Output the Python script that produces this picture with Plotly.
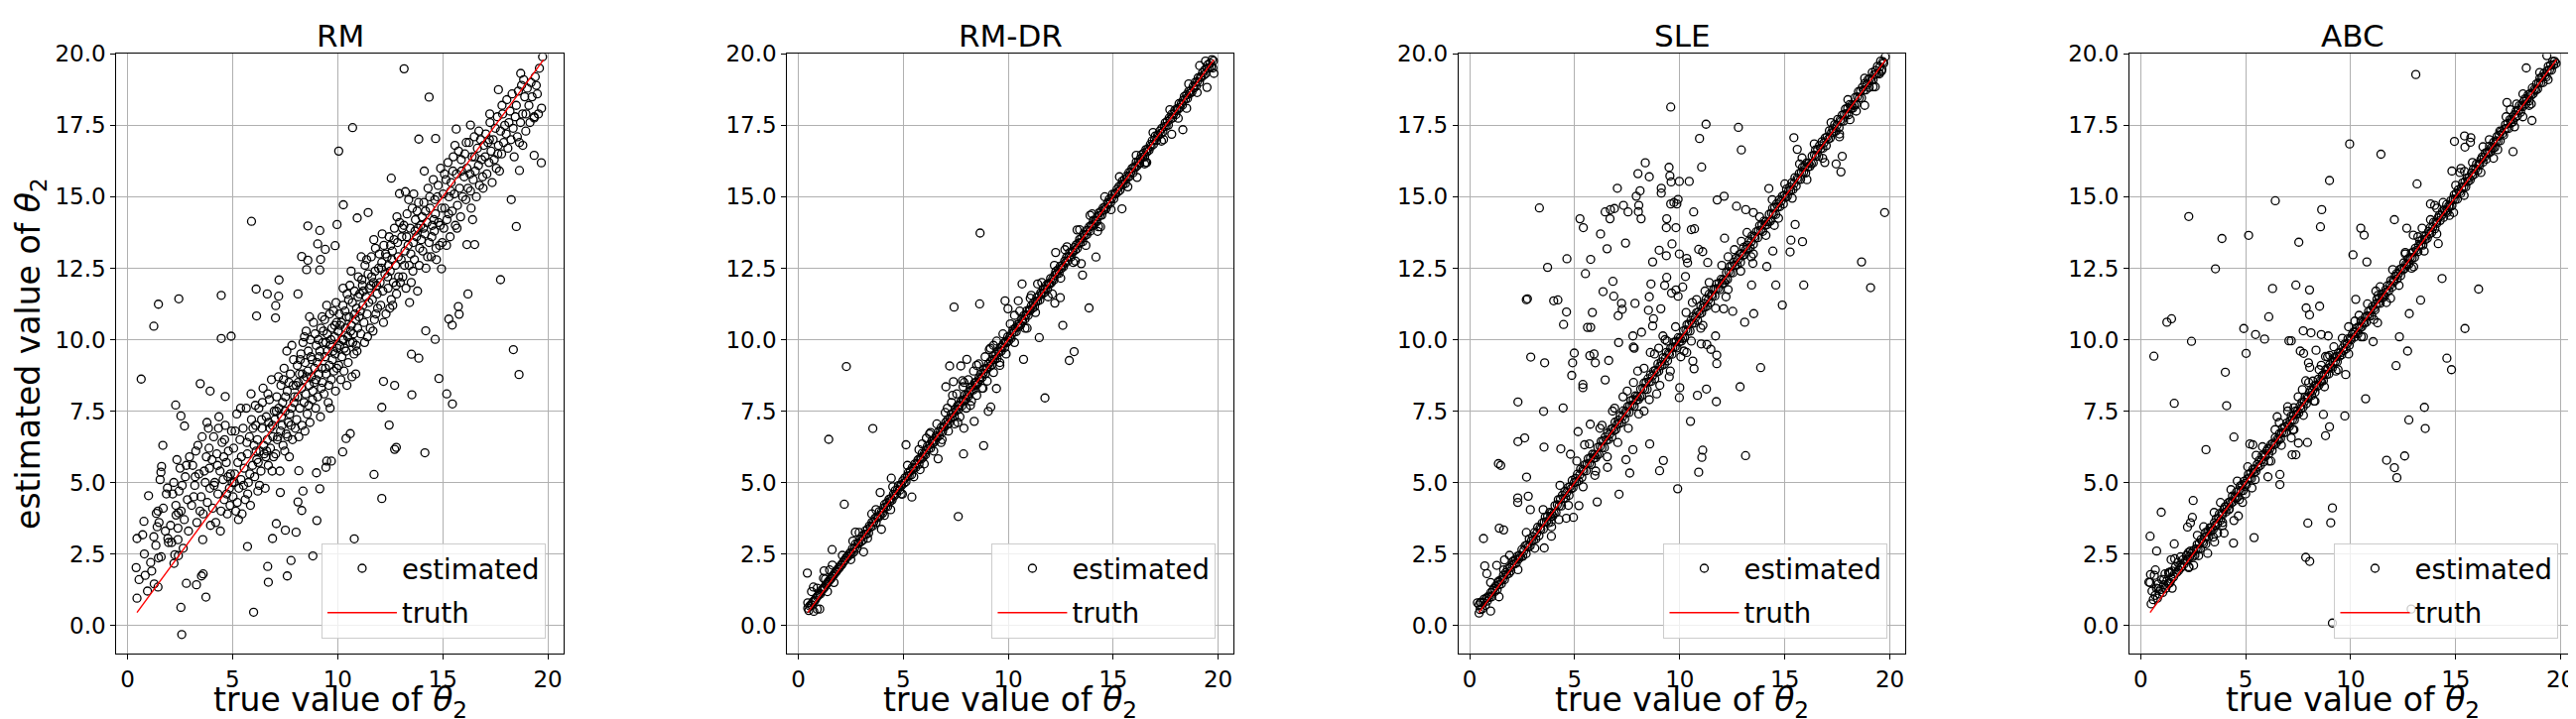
import plotly.graph_objects as go

# ---------------- data ----------------
titles = ["RM", "RM-DR", "SLE", "ABC"]
truth_line = [0.45, 19.8]
x_ticks = [0, 5, 10, 15, 20]
y_ticks = [0, 2.5, 5, 7.5, 10, 12.5, 15, 17.5, 20]
y_tick_labels = ["0.0", "2.5", "5.0", "7.5", "10.0", "12.5", "15.0", "17.5", "20.0"]

# RM: (true, estimated) pairs (dense cloud)
rm_core = [
    (0.55, 1.6), (0.8, 2.5), (0.95, 1.2),
    (1.1, 2.2), (1.25, 3.1), (1.35, 2.8), (1.5, 3.6), (1.6, 2.4), (1.7, 4.1), (1.8, 3.3), (1.95, 2.9), (1.15, 1.9), (1.85, 4.6), (1.55, 5.1), (1.45, 4.0),
    (2.05, 3.5), (2.15, 4.6), (2.2, 5.0), (2.3, 4.2), (2.4, 3.0), (2.5, 5.5), (2.6, 4.9), (2.7, 3.7), (2.75, 5.2), (2.85, 4.4), (2.95, 5.9), (2.1, 2.9), (2.35, 5.8), (2.65, 2.7), (2.9, 3.3), (2.55, 4.0), (2.45, 4.7), (2.8, 5.6),
    (3.05, 4.2), (3.1, 5.6), (3.2, 4.9), (3.25, 6.1), (3.3, 3.6), (3.4, 5.3), (3.5, 4.5), (3.55, 6.6), (3.6, 3.9), (3.7, 5.0), (3.75, 5.9), (3.8, 4.3), (3.85, 6.9), (3.9, 5.5), (3.95, 3.5), (3.15, 4.5), (3.35, 6.3), (3.45, 4.0), (3.65, 5.4), (3.78, 7.1), (3.92, 4.8), (3.58, 3.0), (3.22, 5.2), (3.88, 6.2),
    (4.02, 5.8), (4.05, 4.1), (4.1, 6.6), (4.15, 5.0), (4.2, 3.6), (4.25, 6.0), (4.3, 4.6), (4.35, 7.3), (4.4, 5.4), (4.45, 4.0), (4.5, 6.4), (4.55, 5.1), (4.6, 4.4), (4.65, 7.0), (4.7, 5.7), (4.75, 3.9), (4.8, 6.1), (4.85, 4.8), (4.9, 5.3), (4.95, 6.8), (4.12, 4.9), (4.28, 5.6), (4.42, 3.3), (4.58, 5.9), (4.72, 4.6), (4.88, 4.2), (4.98, 5.0), (4.33, 6.9), (4.62, 6.5), (4.78, 5.2),
    (5.02, 4.5), (5.05, 6.2), (5.1, 5.3), (5.15, 4.0), (5.2, 7.4), (5.25, 5.7), (5.3, 4.8), (5.35, 6.5), (5.4, 5.1), (5.45, 3.9), (5.5, 6.9), (5.55, 5.5), (5.6, 4.4), (5.65, 7.6), (5.7, 6.0), (5.75, 5.0), (5.8, 6.6), (5.85, 4.2), (5.9, 7.2), (5.95, 5.6), (5.08, 5.0), (5.22, 4.3), (5.38, 7.6), (5.52, 4.9), (5.68, 6.4), (5.82, 5.3), (5.97, 6.9), (5.12, 6.8), (5.42, 5.9), (5.72, 4.6), (5.88, 8.1), (5.28, 3.7),
    (6.02, 6.3), (6.05, 5.2), (6.1, 7.0), (6.15, 5.8), (6.2, 4.7), (6.25, 7.6), (6.3, 6.1), (6.35, 5.4), (6.4, 6.9), (6.45, 8.3), (6.5, 6.0), (6.55, 4.8), (6.6, 7.3), (6.65, 6.5), (6.7, 5.6), (6.75, 7.9), (6.8, 6.2), (6.85, 8.6), (6.9, 7.0), (6.95, 5.9), (6.08, 7.7), (6.18, 6.5), (6.28, 4.9), (6.38, 7.2), (6.48, 6.3), (6.58, 5.9), (6.68, 8.1), (6.78, 6.9), (6.88, 5.4), (6.98, 7.5), (6.12, 6.1), (6.42, 7.8), (6.62, 6.1), (6.92, 6.6), (6.22, 5.7), (6.72, 7.1),
    (7.02, 7.2), (7.05, 6.0), (7.1, 8.0), (7.15, 6.6), (7.2, 7.6), (7.25, 5.4), (7.3, 8.4), (7.35, 7.0), (7.4, 6.3), (7.45, 9.0), (7.5, 7.5), (7.55, 6.7), (7.6, 8.2), (7.65, 7.1), (7.7, 5.9), (7.75, 8.8), (7.8, 7.6), (7.85, 6.5), (7.9, 9.3), (7.95, 8.0), (7.08, 7.5), (7.18, 8.7), (7.28, 6.8), (7.38, 7.8), (7.48, 6.1), (7.58, 9.6), (7.68, 8.5), (7.78, 7.0), (7.88, 8.4), (7.98, 6.9), (7.12, 6.5), (7.32, 7.3), (7.52, 8.0), (7.72, 7.4), (7.92, 7.8), (7.42, 8.6), (7.62, 6.6), (7.82, 9.8),
    (8.02, 8.4), (8.05, 7.2), (8.08, 9.1), (8.1, 8.0), (8.15, 6.6), (8.18, 8.8), (8.2, 7.6), (8.25, 9.5), (8.28, 8.3), (8.3, 7.0), (8.35, 9.9), (8.38, 8.6), (8.4, 7.8), (8.45, 9.2), (8.48, 8.1), (8.5, 10.3), (8.55, 7.4), (8.58, 8.9), (8.6, 9.6), (8.65, 8.4), (8.68, 7.1), (8.7, 10.0), (8.75, 8.7), (8.78, 9.3), (8.8, 7.9), (8.85, 10.6), (8.88, 8.5), (8.9, 9.0), (8.95, 7.6), (8.98, 9.8), (8.12, 8.5), (8.22, 9.3), (8.32, 8.8), (8.42, 10.1), (8.52, 8.7), (8.62, 7.7), (8.72, 9.4), (8.82, 8.2), (8.92, 10.2), (8.97, 8.6), (8.44, 6.8), (8.66, 10.8),
    (9.02, 9.2), (9.05, 8.0), (9.08, 10.0), (9.1, 8.8), (9.15, 9.6), (9.18, 7.3), (9.2, 10.4), (9.25, 9.0), (9.28, 8.5), (9.3, 9.9), (9.35, 8.1), (9.38, 10.7), (9.4, 9.4), (9.45, 8.8), (9.5, 10.2), (9.52, 9.6), (9.55, 7.8), (9.6, 9.1), (9.62, 10.9), (9.65, 9.8), (9.7, 8.6), (9.72, 10.4), (9.75, 9.3), (9.8, 11.0), (9.82, 8.9), (9.85, 10.1), (9.88, 9.5), (9.9, 8.2), (9.95, 10.6), (9.98, 9.7), (9.12, 9.4), (9.22, 8.3), (9.32, 10.3), (9.42, 9.0), (9.48, 11.2), (9.58, 8.4), (9.68, 10.0), (9.78, 9.6), (9.92, 11.3), (9.96, 9.0), (9.26, 10.8), (9.64, 7.6), (9.86, 10.5), (9.44, 9.9),
    (10.02, 10.3), (10.05, 9.1), (10.08, 10.9), (10.1, 9.8), (10.15, 8.6), (10.18, 10.6), (10.2, 9.4), (10.25, 11.2), (10.28, 10.0), (10.3, 8.9), (10.35, 11.0), (10.38, 10.4), (10.4, 9.6), (10.45, 11.6), (10.48, 10.1), (10.5, 9.2), (10.55, 10.8), (10.58, 11.9), (10.6, 9.9), (10.65, 10.5), (10.68, 8.7), (10.7, 11.3), (10.75, 10.2), (10.78, 9.5), (10.8, 11.7), (10.85, 10.7), (10.88, 9.8), (10.9, 11.1), (10.95, 10.4), (10.98, 12.2), (10.12, 10.5), (10.22, 10.0), (10.32, 9.7), (10.42, 10.8), (10.52, 11.4), (10.62, 10.3), (10.72, 9.9), (10.82, 10.9), (10.92, 9.6), (10.97, 11.5), (10.44, 8.4), (10.64, 12.4), (10.86, 8.8), (10.26, 11.8),
    (11.02, 10.8), (11.05, 11.6), (11.1, 10.2), (11.15, 12.1), (11.2, 11.2), (11.25, 10.6), (11.3, 12.6), (11.35, 11.5), (11.4, 10.9), (11.45, 12.3), (11.5, 11.8), (11.55, 10.4), (11.6, 12.9), (11.65, 11.4), (11.7, 12.0), (11.75, 10.7), (11.8, 13.2), (11.85, 11.9), (11.9, 11.1), (11.95, 12.5), (11.08, 11.0), (11.18, 11.9), (11.28, 9.9), (11.38, 12.8), (11.48, 11.3), (11.58, 11.9), (11.68, 10.3), (11.78, 12.4), (11.88, 11.6), (11.98, 13.0), (11.12, 12.9), (11.42, 10.1), (11.62, 12.2), (11.82, 10.9), (11.22, 11.7), (11.72, 13.5),
    (12.02, 12.0), (12.05, 11.2), (12.1, 12.7), (12.15, 11.7), (12.2, 13.3), (12.25, 12.3), (12.3, 10.9), (12.35, 12.9), (12.4, 11.8), (12.45, 13.6), (12.5, 12.4), (12.55, 11.4), (12.6, 13.1), (12.65, 12.0), (12.7, 13.9), (12.75, 12.6), (12.8, 11.6), (12.85, 13.4), (12.9, 12.2), (12.95, 14.1), (12.08, 12.5), (12.18, 10.6), (12.28, 13.0), (12.38, 12.2), (12.48, 11.1), (12.58, 12.8), (12.68, 13.5), (12.78, 11.9), (12.88, 12.9), (12.98, 12.0), (12.12, 13.7), (12.42, 12.6), (12.62, 11.2), (12.82, 14.3), (12.52, 13.3),
    (13.02, 12.8), (13.05, 13.6), (13.1, 12.2), (13.15, 14.0), (13.2, 13.1), (13.25, 11.8), (13.3, 14.4), (13.35, 13.3), (13.4, 12.6), (13.45, 13.9), (13.5, 12.0), (13.55, 14.6), (13.6, 13.4), (13.65, 12.8), (13.7, 14.2), (13.75, 13.6), (13.8, 11.7), (13.85, 14.8), (13.9, 13.2), (13.95, 14.0), (13.08, 13.9), (13.18, 12.6), (13.28, 13.6), (13.38, 14.9), (13.48, 13.0), (13.58, 12.4), (13.68, 13.8), (13.78, 14.5), (13.88, 12.6), (13.98, 13.5), (13.42, 11.3), (13.62, 15.1), (13.82, 13.9),
    (14.02, 14.3), (14.05, 13.1), (14.1, 14.8), (14.15, 13.7), (14.2, 12.5), (14.25, 14.1), (14.3, 15.3), (14.35, 13.4), (14.4, 14.6), (14.45, 12.9), (14.5, 14.0), (14.55, 15.6), (14.6, 13.8), (14.65, 14.4), (14.7, 12.8), (14.75, 15.0), (14.8, 14.1), (14.85, 13.3), (14.9, 16.0), (14.95, 14.6), (14.08, 13.9), (14.18, 14.5), (14.28, 12.9), (14.38, 15.0), (14.48, 13.6), (14.58, 14.2), (14.68, 13.2), (14.78, 15.4), (14.88, 14.0), (14.98, 13.4), (14.12, 15.9), (14.62, 14.9),
    (15.02, 15.1), (15.05, 13.9), (15.1, 14.6), (15.15, 15.6), (15.2, 14.2), (15.25, 16.2), (15.3, 15.0), (15.35, 13.6), (15.4, 15.5), (15.45, 14.5), (15.5, 16.4), (15.55, 15.1), (15.6, 14.0), (15.65, 15.8), (15.7, 14.7), (15.75, 16.6), (15.8, 15.3), (15.85, 14.3), (15.9, 15.9), (15.95, 15.0), (15.08, 15.8), (15.28, 14.4), (15.48, 15.9), (15.68, 13.9), (15.88, 16.3), (15.18, 13.3), (15.58, 16.8), (15.38, 15.2),
    (16.02, 15.7), (16.05, 16.5), (16.1, 14.9), (16.15, 16.0), (16.2, 15.3), (16.25, 16.9), (16.3, 15.8), (16.35, 14.6), (16.4, 16.4), (16.45, 15.6), (16.5, 17.1), (16.55, 15.9), (16.6, 15.0), (16.65, 16.7), (16.7, 16.1), (16.75, 15.4), (16.8, 17.0), (16.85, 16.3), (16.9, 15.7), (16.95, 16.8), (16.12, 16.9), (16.32, 15.2), (16.52, 16.4), (16.72, 17.3), (16.92, 15.3), (16.42, 14.2),
    (17.02, 16.4), (17.05, 17.2), (17.1, 15.8), (17.15, 16.9), (17.2, 16.2), (17.25, 17.6), (17.3, 16.6), (17.35, 15.5), (17.4, 17.0), (17.45, 16.3), (17.5, 17.4), (17.55, 16.0), (17.6, 17.8), (17.65, 16.8), (17.7, 15.9), (17.75, 17.3), (17.8, 16.5), (17.85, 17.9), (17.9, 16.9), (17.95, 17.5), (17.22, 17.0), (17.62, 16.5), (17.82, 18.2),
    (18.02, 17.2), (18.05, 18.4), (18.1, 16.7), (18.15, 17.6), (18.2, 18.0), (18.25, 17.0), (18.3, 18.6), (18.35, 17.4), (18.4, 16.4), (18.5, 18.2), (18.55, 17.1), (18.6, 18.7), (18.7, 17.6), (18.75, 18.9), (18.8, 17.9), (18.9, 18.5), (18.95, 17.3), (18.45, 17.8), (18.65, 16.9), (18.85, 19.1),
    (19.02, 18.8), (19.1, 18.2), (19.2, 19.0), (19.25, 18.5), (19.35, 17.8), (19.4, 19.2), (19.5, 18.6), (19.6, 19.5), (19.7, 18.1), (19.15, 17.6), (19.45, 18.9), (19.55, 17.9),
]

rm_outliers = [
    (13.16, 19.48), (14.35, 18.49), (10.71, 17.42), (10.05, 16.6), (13.86, 17.02), (14.66, 17.04),
    (5.9, 14.14), (8.58, 13.98), (9.15, 13.82), (9.97, 14.03), (10.27, 14.72), (10.93, 14.26), (11.45, 14.45),
    (8.29, 12.91), (9.05, 13.35), (9.41, 13.16), (9.88, 13.29), (8.58, 12.78), (9.19, 12.81), (8.52, 12.45), (9.15, 12.44),
    (7.21, 12.09), (6.12, 11.77), (6.65, 11.6), (7.19, 11.52), (7.05, 11.19), (8.11, 11.6), (6.14, 10.83), (7.04, 10.76),
    (4.46, 11.55), (2.44, 11.43), (1.47, 11.24), (1.25, 10.47), (4.46, 10.04), (4.93, 10.12), (0.65, 8.62),
    (3.46, 8.46), (3.93, 8.2), (4.65, 8.01), (2.29, 7.71), (2.54, 7.33), (2.71, 6.98), (1.68, 6.3), (1.62, 5.56), (1.59, 5.36),
    (1.0, 4.54), (0.45, 3.04), (0.72, 3.17), (0.78, 3.64), (0.41, 2.02), (0.84, 1.75), (0.45, 0.95), (1.47, 2.36), (1.27, 1.45), (1.45, 1.34),
    (1.92, 3.04), (1.37, 3.92), (1.41, 3.45), (1.9, 4.81), (2.31, 3.86), (2.42, 3.94), (2.4, 3.4), (2.25, 2.47), (2.21, 2.17), (2.42, 2.44),
    (2.54, 0.63), (2.58, -0.32), (2.8, 1.47), (3.28, 1.42), (3.52, 1.73), (3.6, 1.8), (3.73, 0.99), (6.0, 0.46), (6.67, 2.06), (6.7, 1.51),
    (7.6, 1.73), (7.78, 2.27), (8.82, 2.43), (5.71, 2.76), (6.9, 3.04), (7.51, 3.33), (8.02, 3.26), (7.08, 3.56), (9.01, 3.67),
    (8.29, 4.02), (8.11, 4.32), (8.35, 4.7), (9.15, 4.78), (8.99, 5.34), (8.15, 5.41), (7.27, 4.65), (9.48, 5.75), (9.7, 5.75), (9.44, 5.53),
    (10.24, 6.07), (10.6, 6.71), (10.4, 6.54), (10.79, 3.03), (11.73, 5.28), (12.1, 4.44), (12.71, 6.16), (12.79, 6.23), (12.45, 7.01),
    (12.71, 8.4), (12.18, 8.54), (12.1, 7.63), (13.53, 8.07), (14.15, 6.04), (13.51, 9.49), (13.86, 9.35), (14.82, 8.64), (15.19, 8.1), (15.46, 7.75),
    (14.19, 10.31), (14.64, 10.01), (15.29, 10.72), (15.45, 10.51), (15.78, 10.89), (15.74, 11.16), (16.2, 11.6), (17.75, 12.1),
    (18.36, 9.65), (18.63, 8.78), (18.5, 13.96), (18.26, 14.9), (18.65, 15.92), (19.35, 16.45), (19.69, 16.19), (19.35, 17.76),
    (18.96, 17.9), (18.81, 16.8), (14.94, 12.48), (16.15, 13.33), (16.52, 13.33), (15.64, 17.37), (16.32, 17.51), (17.24, 17.9),
    (17.65, 18.75), (18.71, 19.32), (19.75, 19.9), (12.55, 15.65), (12.94, 15.11), (13.22, 15.18),
]

# shared true values of the near-diagonal band (same test set for every method)
band_true = [
    0.45, 0.5, 0.54, 0.6, 0.65, 0.69, 0.75, 0.8, 0.84, 0.9,
    0.95, 1.01, 1.05, 1.1, 1.16, 1.2, 1.25, 1.31, 1.36, 1.4,
    1.46, 1.51, 1.57, 1.61, 1.66, 1.72, 1.77, 1.81, 1.87, 1.92,
    1.96, 2.02, 2.07, 2.13, 2.18, 2.22, 2.28, 2.33, 2.37, 2.43,
    2.49, 2.53, 2.58, 2.64, 2.69, 2.73, 2.79, 2.84, 2.88, 2.94,
    3.0, 3.04, 3.09, 3.15, 3.2, 3.24, 3.3, 3.35, 3.39, 3.45,
    3.51, 3.55, 3.6, 3.66, 3.71, 3.75, 3.81, 3.86, 3.9, 3.96,
    4.02, 4.06, 4.11, 4.17, 4.22, 4.26, 4.32, 4.37, 4.41, 4.47,
    4.53, 4.57, 4.62, 4.68, 4.73, 4.77, 4.83, 4.88, 4.92, 4.98,
    5.04, 5.08, 5.13, 5.19, 5.24, 5.28, 5.34, 5.39, 5.43, 5.49,
    5.55, 5.59, 5.64, 5.7, 5.75, 5.79, 5.85, 5.9, 5.94, 6.0,
    6.06, 6.1, 6.15, 6.21, 6.26, 6.3, 6.36, 6.41, 6.45, 6.51,
    6.57, 6.61, 6.66, 6.72, 6.77, 6.81, 6.87, 6.92, 6.96, 7.02,
    7.08, 7.12, 7.17, 7.23, 7.28, 7.32, 7.38, 7.43, 7.47, 7.53,
    7.59, 7.63, 7.68, 7.74, 7.79, 7.83, 7.89, 7.94, 7.98, 8.04,
    8.1, 8.14, 8.19, 8.25, 8.3, 8.34, 8.4, 8.45, 8.49, 8.55,
    8.61, 8.65, 8.7, 8.76, 8.81, 8.85, 8.91, 8.96, 9.0, 9.06,
    9.12, 9.16, 9.21, 9.27, 9.32, 9.36, 9.42, 9.47, 9.51, 9.57,
    9.63, 9.67, 9.72, 9.78, 9.83, 9.87, 9.93, 9.98, 10.02, 10.08,
    10.14, 10.18, 10.23, 10.29, 10.34, 10.38, 10.44, 10.49, 10.53, 10.59,
    10.65, 10.69, 10.74, 10.8, 10.85, 10.89, 10.95, 11.0, 11.04, 11.1,
    11.16, 11.2, 11.25, 11.31, 11.36, 11.4, 11.46, 11.51, 11.55, 11.61,
    11.67, 11.71, 11.76, 11.82, 11.87, 11.91, 11.97, 12.02, 12.06, 12.12,
    12.18, 12.22, 12.27, 12.33, 12.38, 12.42, 12.48, 12.53, 12.57, 12.63,
    12.69, 12.73, 12.78, 12.84, 12.89, 12.93, 12.99, 13.04, 13.08, 13.14,
    13.2, 13.24, 13.29, 13.35, 13.4, 13.44, 13.5, 13.55, 13.59, 13.65,
    13.71, 13.75, 13.8, 13.86, 13.91, 13.95, 14.01, 14.06, 14.1, 14.16,
    14.22, 14.26, 14.31, 14.37, 14.42, 14.46, 14.52, 14.57, 14.61, 14.67,
    14.73, 14.77, 14.82, 14.88, 14.93, 14.97, 15.03, 15.08, 15.12, 15.18,
    15.24, 15.28, 15.33, 15.39, 15.44, 15.48, 15.54, 15.59, 15.63, 15.69,
    15.75, 15.79, 15.84, 15.9, 15.95, 15.99, 16.05, 16.1, 16.14, 16.2,
    16.26, 16.3, 16.35, 16.41, 16.46, 16.5, 16.56, 16.61, 16.65, 16.71,
    16.77, 16.81, 16.86, 16.92, 16.97, 17.01, 17.07, 17.12, 17.16, 17.22,
    17.28, 17.32, 17.37, 17.43, 17.48, 17.52, 17.58, 17.63, 17.67, 17.73,
    17.79, 17.83, 17.88, 17.94, 17.99, 18.03, 18.09, 18.14, 18.18, 18.24,
    18.3, 18.34, 18.39, 18.45, 18.5, 18.54, 18.6, 18.65, 18.69, 18.75,
    18.81, 18.85, 18.9, 18.96, 19.01, 19.05, 19.11, 19.16, 19.2, 19.26,
    19.32, 19.36, 19.41, 19.47, 19.52, 19.56, 19.62, 19.67, 19.71, 19.78,
]

rmdr_band = [
    0.6, 0.52, 0.68, 0.72, 0.7, 0.82, 0.85, 0.88, 0.95, 1.0,
    1.05, 1.12, 1.1, 1.22, 1.25, 1.3, 1.33, 1.42, 1.45, 1.5,
    1.55, 1.6, 1.64, 1.72, 1.74, 1.8, 1.86, 1.88, 1.95, 2.0,
    2.02, 2.1, 2.12, 2.2, 2.26, 2.28, 2.36, 2.4, 2.42, 2.5,
    2.55, 2.49, 2.68, 2.56, 2.71, 2.85, 2.69, 2.88, 2.86, 3.02,
    2.94, 3.12, 2.99, 3.18, 3.31, 3.19, 3.36, 3.23, 3.48, 3.44,
    3.61, 3.48, 3.62, 3.75, 3.6, 3.8, 3.78, 3.98, 3.84, 3.97,
    3.93, 4.1, 4.23, 4.15, 4.29, 4.16, 4.41, 4.33, 4.43, 4.39,
    4.59, 4.53, 4.72, 4.6, 4.75, 4.89, 4.73, 4.92, 4.9, 5.06,
    4.98, 5.16, 5.03, 5.22, 5.35, 5.23, 5.4, 5.27, 5.52, 5.48,
    5.65, 5.52, 5.66, 5.79, 5.64, 5.84, 5.82, 6.02, 5.88, 6.01,
    5.97, 6.14, 6.27, 6.19, 6.33, 6.2, 6.45, 6.37, 6.47, 6.43,
    6.63, 6.57, 6.76, 6.64, 6.79, 6.93, 6.77, 6.96, 6.94, 7.1,
    7.02, 7.2, 7.07, 7.26, 7.39, 7.27, 7.44, 7.31, 7.56, 7.52,
    7.69, 7.56, 7.7, 7.83, 7.68, 7.88, 7.86, 8.06, 7.92, 8.05,
    8.01, 8.18, 8.31, 8.23, 8.37, 8.24, 8.49, 8.41, 8.51, 8.47,
    8.67, 8.61, 8.8, 8.68, 8.83, 8.97, 8.81, 9.0, 8.98, 9.14,
    9.06, 9.24, 9.11, 9.3, 9.43, 9.31, 9.48, 9.35, 9.6, 9.56,
    9.73, 9.6, 9.74, 9.87, 9.72, 9.92, 9.9, 10.1, 9.96, 10.09,
    10.05, 10.22, 10.35, 10.27, 10.41, 10.28, 10.53, 10.45, 10.55, 10.51,
    10.71, 10.65, 10.84, 10.72, 10.87, 11.01, 10.85, 11.04, 11.02, 11.18,
    11.1, 11.28, 11.15, 11.34, 11.47, 11.35, 11.52, 11.39, 11.64, 11.6,
    11.77, 11.64, 11.78, 11.91, 11.76, 11.96, 11.94, 12.14, 12.0, 12.13,
    12.09, 12.26, 12.39, 12.31, 12.45, 12.32, 12.57, 12.49, 12.59, 12.55,
    12.75, 12.69, 12.88, 12.76, 12.91, 13.05, 12.89, 13.08, 13.06, 13.22,
    13.14, 13.32, 13.19, 13.38, 13.51, 13.39, 13.56, 13.43, 13.68, 13.64,
    13.81, 13.68, 13.82, 13.95, 13.8, 14.0, 13.98, 14.18, 14.04, 14.17,
    14.13, 14.3, 14.43, 14.35, 14.49, 14.36, 14.61, 14.53, 14.63, 14.59,
    14.79, 14.73, 14.92, 14.8, 14.95, 15.09, 14.93, 15.12, 15.1, 15.26,
    15.18, 15.36, 15.23, 15.42, 15.55, 15.43, 15.6, 15.47, 15.72, 15.68,
    15.85, 15.72, 15.86, 15.99, 15.84, 16.04, 16.02, 16.22, 16.08, 16.21,
    16.17, 16.34, 16.47, 16.39, 16.53, 16.4, 16.65, 16.57, 16.67, 16.63,
    16.83, 16.77, 16.96, 16.84, 16.99, 17.13, 16.97, 17.16, 17.14, 17.3,
    17.22, 17.4, 17.27, 17.46, 17.59, 17.47, 17.64, 17.51, 17.76, 17.72,
    17.89, 17.76, 17.9, 18.03, 17.88, 18.08, 18.06, 18.26, 18.12, 18.25,
    18.21, 18.38, 18.51, 18.43, 18.57, 18.44, 18.69, 18.61, 18.71, 18.67,
    18.87, 18.81, 19.0, 18.88, 19.03, 19.17, 19.01, 19.2, 19.18, 19.34,
    19.26, 19.44, 19.31, 19.5, 19.63, 19.51, 19.68, 19.55, 19.8, 19.76,
]

rmdr_fuzz = [
    (0.9, 1.3), (1.2, 1.65), (1.7, 1.5), (2.1, 2.45), (2.5, 2.3), (2.9, 3.25), (3.3, 3.05), (3.7, 4.05), (4.1, 3.85),
    (4.5, 4.85), (4.9, 4.6), (5.2, 5.6), (5.5, 5.2), (5.75, 6.15), (6.0, 5.65), (6.25, 6.7), (6.45, 6.1), (6.6, 7.05),
    (6.85, 6.5), (7.0, 7.45), (7.15, 6.8), (7.3, 7.8), (7.45, 7.05), (7.55, 8.1), (7.7, 7.3), (7.85, 8.35), (8.0, 7.6),
    (8.1, 8.6), (8.25, 7.85), (8.35, 8.9), (8.5, 8.05), (8.6, 9.15), (8.75, 8.3), (8.9, 9.4), (9.0, 8.55), (9.15, 9.7),
    (9.3, 8.85), (9.45, 9.95), (9.6, 9.2), (9.75, 10.2), (9.9, 9.5), (10.1, 10.55), (10.3, 9.9), (10.55, 11.0),
    (10.8, 10.4), (11.05, 11.45), (11.3, 10.95), (11.6, 12.0), (11.9, 11.5), (12.2, 12.6), (12.5, 12.15), (12.8, 13.25),
    (13.1, 12.7), (13.4, 13.85), (13.7, 13.3), (14.0, 14.4), (14.3, 13.95), (14.6, 15.0), (14.9, 14.55), (15.3, 15.7),
    (15.7, 15.35), (16.1, 16.45), (16.5, 16.15), (16.9, 17.25), (17.3, 16.95), (17.7, 18.05), (18.1, 17.75),
    (18.6, 18.95), (19.0, 18.65), (19.4, 19.75),
]

rmdr_outliers = [
    (8.66, 13.73), (7.42, 11.14), (8.64, 11.25), (9.85, 11.36), (9.99, 11.08), (10.66, 11.95), (10.48, 11.36),
    (13.85, 11.11), (12.6, 10.5), (11.48, 10.07), (10.73, 9.31), (13.14, 9.58), (12.91, 9.27), (11.75, 7.96),
    (9.44, 8.29), (9.17, 7.64), (9.05, 7.49), (8.38, 7.14), (7.89, 6.9), (7.87, 6.0), (8.83, 6.29), (7.62, 3.81),
    (6.66, 5.83), (7.21, 9.08), (7.74, 9.08), (8.03, 9.31), (7.82, 8.56), (7.39, 8.53), (7.03, 8.35),
    (2.29, 9.06), (1.45, 6.51), (3.55, 6.89), (2.19, 4.24), (5.13, 6.32), (5.41, 4.49), (4.96, 4.59), (3.9, 4.65),
    (4.43, 5.15), (3.96, 3.36), (3.11, 2.57), (2.72, 3.26), (1.61, 2.65), (0.43, 1.83), (0.45, 0.79), (0.72, 1.34),
    (0.63, 1.18), (0.9, 0.57), (1.02, 0.57), (0.74, 0.49), (1.23, 1.91), (1.49, 1.94), (1.29, 1.62), (1.62, 2.11),
    (1.39, 1.18), (14.18, 12.89), (13.54, 12.26), (13.48, 12.66), (13.28, 13.84), (12.26, 13.05), (12.22, 11.28),
    (12.48, 11.47), (17.79, 17.19), (18.32, 17.35), (19.47, 18.83), (19.12, 19.59), (19.75, 19.51), (19.8, 19.32),
    (16.14, 15.68), (16.55, 16.2), (14.26, 13.79), (15.42, 14.58), (6.1, 6.55), (5.8, 5.45), (11.1, 11.55), (9.3, 9.8),
    (5.9, 6.35), (6.3, 6.75), (6.8, 6.4), (7.1, 7.6), (7.35, 8.05), (7.6, 7.1), (7.9, 8.5), (8.2, 7.7), (8.5, 9.1),
    (8.8, 8.3), (9.1, 9.65), (9.6, 9.1), (10.3, 10.85), (10.9, 10.4), (11.4, 11.95), (12.1, 11.6), (12.7, 13.15),
    (13.2, 12.75), (13.9, 14.35), (14.4, 13.95), (16.6, 16.2), (17.4, 17.0), (18.5, 18.1), (3.5, 3.9), (4.4, 4.05),
    (2.6, 2.95),
]

sle_band = [
    0.72, 0.55, 0.8, 0.58, 0.78, 0.92, 0.7, 0.95, 0.85, 1.02,
    0.98, 1.15, 1.0, 1.22, 1.3, 1.18, 1.38, 1.25, 1.5, 1.42,
    1.58, 1.45, 1.62, 1.75, 1.6, 1.85, 1.78, 1.98, 1.82, 2.02,
    1.9, 2.12, 2.25, 2.15, 2.3, 2.18, 2.42, 2.32, 2.45, 2.4,
    2.65, 2.42, 2.61, 2.78, 2.51, 2.81, 2.74, 3.03, 2.78, 2.96,
    3.1, 2.98, 3.25, 3.02, 3.23, 3.43, 3.14, 3.41, 3.36, 3.58,
    3.37, 3.61, 3.79, 3.63, 3.82, 3.59, 3.95, 3.8, 3.93, 3.83,
    3.92, 4.19, 3.95, 4.22, 4.4, 4.18, 4.42, 4.18, 4.55, 4.45,
    4.69, 4.46, 4.65, 4.82, 4.55, 4.85, 4.78, 5.07, 4.82, 5.0,
    5.14, 5.02, 5.29, 5.06, 5.27, 5.47, 5.18, 5.45, 5.4, 5.62,
    5.41, 5.65, 5.83, 5.67, 5.86, 5.63, 5.99, 5.84, 5.97, 5.87,
    5.96, 6.23, 5.99, 6.26, 6.44, 6.22, 6.46, 6.22, 6.59, 6.49,
    6.73, 6.5, 6.69, 6.86, 6.59, 6.89, 6.82, 7.11, 6.86, 7.04,
    7.18, 7.06, 7.33, 7.1, 7.31, 7.51, 7.22, 7.49, 7.44, 7.66,
    7.45, 7.69, 7.87, 7.71, 7.9, 7.67, 8.03, 7.88, 8.01, 7.91,
    8.0, 8.27, 8.03, 8.3, 8.48, 8.26, 8.5, 8.26, 8.63, 8.53,
    8.77, 8.54, 8.73, 8.9, 8.63, 8.93, 8.86, 9.15, 8.9, 9.08,
    9.22, 9.1, 9.37, 9.14, 9.35, 9.55, 9.26, 9.53, 9.48, 9.7,
    9.49, 9.73, 9.91, 9.75, 9.94, 9.71, 10.07, 9.92, 10.05, 9.95,
    10.04, 10.31, 10.07, 10.34, 10.52, 10.3, 10.54, 10.3, 10.67, 10.57,
    10.81, 10.58, 10.77, 10.94, 10.67, 10.97, 10.9, 11.19, 10.94, 11.12,
    11.26, 11.14, 11.41, 11.18, 11.39, 11.59, 11.3, 11.57, 11.52, 11.74,
    11.53, 11.77, 11.95, 11.79, 11.98, 11.75, 12.11, 11.96, 12.09, 11.99,
    12.08, 12.35, 12.11, 12.38, 12.56, 12.34, 12.58, 12.34, 12.71, 12.61,
    12.85, 12.62, 12.81, 12.98, 12.71, 13.01, 12.94, 13.23, 12.98, 13.16,
    13.3, 13.18, 13.45, 13.22, 13.43, 13.63, 13.34, 13.61, 13.56, 13.78,
    13.57, 13.81, 13.99, 13.83, 14.02, 13.79, 14.15, 14.0, 14.13, 14.03,
    14.12, 14.39, 14.15, 14.42, 14.6, 14.38, 14.62, 14.38, 14.75, 14.65,
    14.89, 14.66, 14.85, 15.02, 14.75, 15.05, 14.98, 15.27, 15.02, 15.2,
    15.34, 15.22, 15.49, 15.26, 15.47, 15.67, 15.38, 15.65, 15.6, 15.82,
    15.61, 15.85, 16.03, 15.87, 16.06, 15.83, 16.19, 16.04, 16.17, 16.07,
    16.16, 16.43, 16.19, 16.46, 16.64, 16.42, 16.66, 16.42, 16.79, 16.69,
    16.93, 16.7, 16.89, 17.06, 16.79, 17.09, 17.02, 17.31, 17.06, 17.24,
    17.38, 17.26, 17.53, 17.3, 17.51, 17.71, 17.42, 17.69, 17.64, 17.86,
    17.65, 17.89, 18.07, 17.91, 18.1, 17.87, 18.23, 18.08, 18.21, 18.11,
    18.2, 18.47, 18.23, 18.5, 18.68, 18.46, 18.7, 18.46, 18.83, 18.73,
    18.97, 18.74, 18.93, 19.1, 18.83, 19.13, 19.06, 19.35, 19.1, 19.28,
    19.42, 19.3, 19.57, 19.34, 19.55, 19.75, 19.46, 19.73, 19.68, 19.9,
]

sle_fuzz = [
    (1.0, 1.5), (1.4, 1.0), (1.9, 2.45), (2.3, 1.95), (2.7, 3.25), (3.1, 2.7), (3.5, 4.05), (3.9, 3.45), (4.3, 4.9),
    (4.7, 4.2), (5.1, 5.75), (5.4, 4.85), (5.7, 6.35), (6.0, 5.4), (6.3, 7.0), (6.55, 5.9), (6.8, 7.5), (7.05, 6.4),
    (7.3, 8.0), (7.55, 6.9), (7.8, 8.5), (8.05, 7.4), (8.3, 9.0), (8.55, 7.9), (8.8, 9.5), (9.05, 8.4), (9.3, 10.0),
    (9.55, 8.9), (9.8, 10.45), (10.05, 9.4), (10.3, 10.95), (10.55, 9.95), (10.8, 11.4), (11.1, 10.5), (11.4, 12.0),
    (11.7, 11.1), (12.0, 12.6), (12.3, 11.75), (12.6, 13.15), (12.9, 12.4), (13.2, 13.75), (13.5, 13.0), (13.8, 14.3),
    (14.1, 13.65), (14.4, 14.9), (14.7, 14.25), (15.0, 15.45), (15.35, 14.95), (15.7, 16.15), (16.05, 15.6),
    (16.4, 16.85), (16.8, 16.35), (17.2, 17.6), (17.6, 17.2), (18.0, 18.4), (18.4, 18.0), (18.8, 19.15), (19.2, 18.85),
]

sle_outliers = [
    (9.57, 18.14), (11.25, 17.54), (12.79, 17.43), (10.94, 17.04), (12.93, 16.64), (15.43, 17.07), (15.59, 16.66),
    (15.82, 16.36), (17.73, 16.42), (17.44, 16.15), (17.67, 15.87), (8.36, 16.19), (8.01, 15.81), (8.55, 15.7),
    (9.49, 16.03), (9.53, 15.73), (9.59, 15.52), (9.98, 15.54), (10.45, 15.54), (11.04, 16.04), (7.03, 15.3),
    (8.11, 15.21), (9.12, 15.3), (9.12, 15.13), (7.93, 15.02), (8.05, 14.7), (7.32, 14.7), (6.89, 14.59),
    (6.7, 14.55), (6.45, 14.47), (7.54, 14.47), (8.03, 14.48), (9.57, 14.75), (9.86, 14.75), (9.72, 14.8),
    (9.92, 14.91), (10.66, 14.47), (11.78, 14.89), (12.11, 15.02), (12.7, 14.67), (13.14, 14.55), (13.5, 14.45),
    (14.24, 15.29), (3.32, 14.61), (5.25, 14.23), (5.41, 13.92), (6.23, 13.7), (6.68, 14.23), (8.16, 14.23),
    (9.38, 14.23), (9.36, 13.92), (9.82, 13.92), (10.55, 13.85), (10.7, 13.88), (9.63, 13.35), (7.42, 13.38),
    (6.54, 13.18), (4.63, 12.83), (5.76, 12.81), (3.71, 12.53), (9.02, 13.13), (9.36, 12.94), (8.71, 12.72),
    (9.98, 13.0), (10.33, 12.84), (10.9, 13.16), (11.09, 13.08), (11.33, 12.7), (12.13, 13.55), (12.93, 13.44),
    (13.48, 12.67), (14.14, 12.56), (14.43, 13.1), (14.57, 11.91), (15.29, 13.48), (15.25, 13.07), (15.84, 13.43),
    (15.49, 14.03), (15.9, 11.91), (14.88, 11.21), (13.42, 11.91), (13.09, 10.61), (13.52, 10.91), (12.52, 10.99),
    (12.09, 11.08), (18.65, 12.72), (19.08, 11.82), (19.75, 14.45), (13.85, 9.02), (12.87, 8.35), (11.74, 7.83),
    (11.27, 8.27), (10.84, 8.05), (11.76, 9.16), (11.76, 9.46), (11.7, 10.13), (11.48, 9.66), (11.29, 9.83),
    (11.02, 9.85), (10.68, 8.98), (10.62, 9.25), (10.33, 9.55), (13.13, 5.94), (11.09, 6.13), (11.05, 5.88),
    (10.9, 5.36), (10.51, 7.14), (9.9, 4.78), (10.0, 8.32), (9.98, 7.97), (9.22, 5.77), (9.04, 5.41), (8.57, 6.35),
    (7.77, 6.15), (7.62, 5.33), (7.44, 5.8), (7.11, 4.59), (6.07, 4.32), (6.56, 5.53), (5.96, 5.25), (5.2, 4.19),
    (4.94, 3.78), (5.16, 6.78), (5.47, 6.32), (5.74, 7.04), (4.45, 7.61), (4.34, 6.18), (4.8, 5.99), (3.54, 6.24),
    (3.52, 7.49), (2.62, 6.56), (2.3, 6.43), (2.3, 7.82), (2.71, 5.19), (2.79, 4.52), (2.29, 4.46), (2.29, 4.3),
    (2.89, 4.05), (1.37, 5.66), (1.48, 5.6), (1.41, 3.4), (1.62, 3.34), (0.66, 3.04), (0.72, 2.08), (0.82, 1.81),
    (1.29, 2.1), (1.66, 2.29), (1.62, 1.94), (1.37, 1.54), (3.55, 2.71), (3.89, 3.12), (0.37, 0.79), (0.51, 0.8),
    (0.45, 0.43), (1.0, 0.5), (0.82, 0.96), (2.91, 9.39), (3.57, 9.19), (4.47, 10.53), (4.61, 10.97), (4.0, 11.36),
    (4.2, 11.39), (2.75, 11.43), (2.7, 11.4), (5.51, 12.31), (6.35, 11.68), (6.82, 12.04), (6.86, 11.52), (7.23, 11.27),
    (7.26, 11.06), (7.07, 10.84), (5.61, 10.43), (5.76, 10.43), (5.84, 10.95), (5.72, 9.44), (5.92, 9.5), (5.98, 9.19),
    (6.62, 9.27), (4.9, 9.19), (4.98, 9.53), (4.86, 8.75), (5.39, 8.43), (5.39, 8.32), (6.45, 8.59), (7.09, 9.9),
    (7.77, 10.13), (7.79, 9.74), (7.83, 9.7), (8.18, 10.26), (7.87, 11.27), (8.55, 11.5), (8.63, 11.95), (8.51, 11.03),
    (9.1, 11.08), (8.71, 10.48), (9.2, 10.13), (8.75, 10.73), (9.28, 11.9), (9.38, 12.18), (9.61, 11.63), (9.82, 11.74),
    (10.14, 11.84), (10.27, 12.21), (9.92, 11.52), (10.37, 12.69), (3.88, 3.62), (4.25, 3.7), (4.6, 3.75), (6.2, 6.9),
    (6.9, 7.6), (7.5, 8.2), (8.0, 8.9), (8.6, 9.55), (9.0, 9.7), (9.4, 9.95), (10.6, 11.3), (11.2, 11.7), (12.3, 12.9),
    (8.3, 7.5), (8.9, 8.1), (9.5, 8.7), (10.2, 9.6), (11.0, 10.4), (12.2, 11.5), (13.4, 12.9), (14.5, 14.0),
    (16.9, 16.2), (17.6, 17.1), (18.1, 17.7), (18.8, 18.2), (19.3, 18.85), (19.5, 19.3), (19.6, 19.4),
]

abc_band = [
    1.5, 0.75, 1.2, 0.9, 1.75, 1.05, 1.3, 0.95, 1.45, 1.1,
    1.25, 1.6, 1.15, 1.42, 1.8, 1.3, 1.55, 1.45, 1.85, 1.5,
    1.62, 1.9, 1.7, 1.8, 2.05, 1.85, 2.2, 1.92, 2.1, 2.02,
    2.08, 2.3, 2.15, 2.25, 2.45, 2.3, 2.55, 2.4, 2.6, 2.52,
    2.41, 2.63, 2.45, 2.68, 2.83, 2.66, 2.87, 2.68, 3.0, 2.93,
    2.88, 3.09, 3.25, 3.12, 3.29, 3.11, 3.42, 3.3, 3.42, 3.35,
    3.59, 3.5, 3.73, 3.56, 3.74, 3.91, 3.68, 3.91, 3.87, 4.06,
    4.15, 3.97, 4.14, 4.29, 4.08, 4.33, 4.28, 4.53, 4.33, 4.48,
    4.45, 4.67, 4.49, 4.72, 4.87, 4.7, 4.91, 4.72, 5.04, 4.97,
    4.92, 5.13, 5.29, 5.16, 5.33, 5.15, 5.46, 5.34, 5.46, 5.39,
    5.63, 5.54, 5.77, 5.6, 5.78, 5.95, 5.72, 5.95, 5.91, 6.1,
    6.19, 6.01, 6.18, 6.33, 6.12, 6.37, 6.32, 6.57, 6.37, 6.52,
    6.49, 6.71, 6.53, 6.76, 6.91, 6.74, 6.95, 6.76, 7.08, 7.01,
    6.96, 7.17, 7.33, 7.2, 7.37, 7.19, 7.5, 7.38, 7.5, 7.43,
    7.67, 7.58, 7.81, 7.64, 7.82, 7.99, 7.76, 7.99, 7.95, 8.14,
    8.23, 8.05, 8.22, 8.37, 8.16, 8.41, 8.36, 8.61, 8.41, 8.56,
    8.53, 8.75, 8.57, 8.8, 8.95, 8.78, 8.99, 8.8, 9.12, 9.05,
    9.0, 9.21, 9.37, 9.24, 9.41, 9.23, 9.54, 9.42, 9.54, 9.47,
    9.71, 9.62, 9.85, 9.68, 9.86, 10.03, 9.8, 10.03, 9.99, 10.18,
    10.27, 10.09, 10.26, 10.41, 10.2, 10.45, 10.4, 10.65, 10.45, 10.6,
    10.57, 10.79, 10.61, 10.84, 10.99, 10.82, 11.03, 10.84, 11.16, 11.09,
    11.04, 11.25, 11.41, 11.28, 11.45, 11.27, 11.58, 11.46, 11.58, 11.51,
    11.75, 11.66, 11.89, 11.72, 11.9, 12.07, 11.84, 12.07, 12.03, 12.22,
    12.31, 12.13, 12.3, 12.45, 12.24, 12.49, 12.44, 12.69, 12.49, 12.64,
    12.61, 12.83, 12.65, 12.88, 13.03, 12.86, 13.07, 12.88, 13.2, 13.13,
    13.08, 13.29, 13.45, 13.32, 13.49, 13.31, 13.62, 13.5, 13.62, 13.55,
    13.79, 13.7, 13.93, 13.76, 13.94, 14.11, 13.88, 14.11, 14.07, 14.26,
    14.35, 14.17, 14.34, 14.49, 14.28, 14.53, 14.48, 14.73, 14.53, 14.68,
    14.65, 14.87, 14.69, 14.92, 15.07, 14.9, 15.11, 14.92, 15.24, 15.17,
    15.12, 15.33, 15.49, 15.36, 15.53, 15.35, 15.66, 15.54, 15.66, 15.59,
    15.83, 15.74, 15.97, 15.8, 15.98, 16.15, 15.92, 16.15, 16.11, 16.3,
    16.39, 16.21, 16.38, 16.53, 16.32, 16.57, 16.52, 16.77, 16.57, 16.72,
    16.69, 16.91, 16.73, 16.96, 17.11, 16.94, 17.15, 16.96, 17.28, 17.21,
    17.16, 17.37, 17.53, 17.4, 17.57, 17.39, 17.7, 17.58, 17.7, 17.63,
    17.87, 17.78, 18.01, 17.84, 18.02, 18.19, 17.96, 18.19, 18.15, 18.34,
    18.43, 18.25, 18.42, 18.57, 18.36, 18.61, 18.56, 18.81, 18.61, 18.76,
    18.73, 18.95, 18.77, 19.0, 19.15, 18.98, 19.19, 19.0, 19.32, 19.25,
    19.2, 19.41, 19.57, 19.44, 19.61, 19.43, 19.74, 19.62, 19.74, 19.67,
]

abc_fuzz = [
    (1.1, 1.6), (1.5, 1.3), (1.9, 2.4), (2.3, 2.05), (2.7, 3.15), (3.1, 2.85), (3.5, 3.95), (3.9, 3.6), (4.3, 4.75),
    (4.7, 4.4), (5.1, 5.55), (5.45, 5.1), (5.8, 6.25), (6.1, 5.75), (6.4, 6.85), (6.7, 6.3), (7.0, 7.5), (7.25, 6.85),
    (7.5, 8.0), (7.75, 7.35), (8.0, 8.5), (8.25, 7.85), (8.5, 8.95), (8.75, 8.35), (9.0, 9.45), (9.3, 8.9), (9.6, 10.05),
    (9.9, 9.5), (10.2, 10.65), (10.5, 10.1), (10.8, 11.25), (11.1, 10.7), (11.4, 11.85), (11.7, 11.3), (12.0, 12.45),
    (12.3, 11.9), (12.6, 13.0), (12.9, 12.5), (13.2, 13.6), (13.5, 13.1), (13.8, 14.2), (14.1, 13.7), (14.4, 14.8),
    (14.7, 14.35), (15.0, 15.4), (15.4, 15.05), (15.8, 16.2), (16.2, 15.85), (16.6, 17.0), (17.0, 16.65), (17.4, 17.8),
    (17.8, 17.45), (18.2, 18.6), (18.6, 18.25), (19.0, 19.35), (19.4, 19.1),
]

abc_outliers = [
    (13.1, 19.28), (9.95, 16.85), (11.44, 16.49), (8.99, 15.57), (6.41, 14.86), (8.62, 14.55), (8.56, 13.95),
    (2.29, 14.31), (3.87, 13.54), (5.14, 13.65), (7.53, 13.41), (3.56, 12.48), (10.11, 12.97), (10.77, 12.72),
    (10.48, 13.9), (10.64, 13.66), (12.08, 14.2), (12.67, 13.9), (12.98, 13.66), (13.16, 15.45), (14.82, 15.9),
    (15.25, 15.99), (15.42, 15.89), (14.94, 16.94), (15.42, 17.13), (15.44, 16.74), (15.72, 17.07), (15.7, 16.91),
    (17.73, 16.58), (18.63, 17.67), (18.36, 19.51), (19.34, 19.94), (17.44, 18.3), (14.17, 13.36), (14.35, 12.14),
    (16.09, 11.77), (15.44, 10.39), (14.58, 9.35), (14.8, 8.95), (13.33, 11.38), (12.79, 10.91), (12.32, 10.1),
    (12.71, 9.6), (12.16, 9.09), (11.07, 9.93), (11.28, 10.59), (10.24, 11.41), (9.76, 8.78), (10.71, 7.93),
    (9.72, 7.33), (13.51, 7.63), (12.77, 7.19), (13.55, 6.89), (12.57, 5.93), (11.71, 5.78), (12.08, 5.52),
    (12.2, 5.17), (9.13, 4.11), (9.05, 3.59), (7.96, 3.58), (7.86, 2.38), (8.05, 2.24), (12.88, 0.57), (9.13, 0.08),
    (8.99, 6.95), (8.8, 6.64), (8.7, 7.38), (7.94, 6.4), (7.21, 5.97), (7.39, 5.97), (7.51, 6.38), (7.17, 6.56),
    (6.63, 5.28), (6.63, 4.93), (6.06, 5.2), (5.4, 3.07), (5.3, 4.81), (4.85, 4.3), (4.44, 3.67), (4.65, 3.83),
    (4.42, 2.88), (3.97, 3.23), (4.44, 6.59), (5.2, 6.35), (5.34, 6.32), (3.11, 6.15), (1.6, 7.77), (4.09, 7.69),
    (4.03, 8.86), (0.63, 9.42), (1.25, 10.61), (1.47, 10.73), (2.42, 9.94), (4.91, 10.39), (5.02, 9.52), (5.47, 10.18),
    (5.9, 10.02), (6.1, 10.8), (6.28, 11.79), (7.39, 11.91), (8.04, 11.74), (7.88, 11.11), (8.04, 10.87), (8.52, 11.17),
    (7.74, 10.31), (8.11, 10.24), (8.6, 10.18), (8.93, 10.13), (7.06, 9.96), (7.17, 9.96), (7.6, 9.6), (7.76, 9.52),
    (8.35, 9.63), (7.99, 9.19), (8.05, 9.03), (7.86, 8.56), (8.8, 9.41), (2.5, 4.37), (2.23, 3.44), (2.37, 3.59),
    (2.46, 3.78), (0.98, 3.96), (0.45, 3.12), (0.76, 2.6), (1.6, 2.85), (0.7, 1.94), (0.47, 1.78), (0.39, 1.51),
    (0.84, 1.28), (1.35, 1.47), (1.45, 2.3), (1.62, 2.33), (1.41, 1.86), (1.33, 1.84), (2.29, 2.02), (2.52, 2.1),
    (2.76, 2.44), (3.19, 2.52), (3.52, 2.92), (3.46, 3.09), (3.66, 3.23), (3.8, 4.3), (4.2, 4.05), (6.5, 7.3),
    (7.0, 7.65), (7.3, 7.62), (8.2, 8.55), (8.9, 9.4), (9.2, 9.75), (10.4, 10.85), (11.3, 11.55), (13.4, 13.9),
    (13.8, 14.75), (14.0, 14.7), (14.6, 14.45), (15.2, 15.85), (17.1, 17.3), (17.9, 18.25), (18.5, 18.2),
    (5.5, 5.95), (6.2, 5.75), (6.6, 7.1), (7.3, 6.85), (7.7, 8.25), (8.3, 7.85), (8.6, 9.1), (9.4, 8.95),
    (9.9, 10.45), (10.6, 10.1), (11.2, 11.7), (11.9, 11.45), (12.6, 13.05), (13.0, 12.55), (14.1, 14.6),
    (14.9, 14.45), (16.3, 16.75), (16.8, 16.35), (17.6, 18.05), (18.2, 17.8), (3.0, 3.45), (3.9, 3.5),
    (4.6, 5.05), (5.0, 4.6),
]

# ---------------- figure ----------------
panels = [
    rm_core + rm_outliers,
    list(zip(band_true, rmdr_band)) + rmdr_fuzz + rmdr_outliers,
    list(zip(band_true, sle_band)) + sle_fuzz + sle_outliers,
    list(zip(band_true, abc_band)) + abc_fuzz + abc_outliers,
]

W, H = 2596, 725
x_domains = [[0.0421, 0.2157], [0.3025, 0.4759], [0.5631, 0.7367], [0.8236, 0.9971]]
y_domain = [0.1034, 0.9531]
FONT = "DejaVu Sans"

fig = go.Figure()
layout = dict(
    width=W, height=H,
    margin=dict(l=0, r=0, t=0, b=0),
    paper_bgcolor="white", plot_bgcolor="white",
    font=dict(family=FONT, color="black"),
    showlegend=True,
    annotations=[],
)

for i, pts in enumerate(panels):
    n = "" if i == 0 else str(i + 1)
    leg = "legend" + n
    xs = [p[0] for p in pts]
    ys = [p[1] for p in pts]
    fig.add_trace(go.Scatter(
        x=xs, y=ys, mode="markers", name="estimated",
        xaxis="x" + n, yaxis="y" + n, legend=leg, legendgroup="est" + n,
        marker=dict(symbol="circle-open", size=8, color="black", line=dict(width=1.3)),
    ))
    fig.add_trace(go.Scatter(
        x=truth_line, y=truth_line, mode="lines", name="truth",
        xaxis="x" + n, yaxis="y" + n, legend=leg, legendgroup="truth" + n,
        line=dict(color="red", width=1.4),
    ))
    common = dict(
        showgrid=True, gridcolor="#b0b0b0", gridwidth=1,
        showline=True, linecolor="black", linewidth=1, mirror=True,
        ticks="outside", ticklen=5, tickwidth=1, tickcolor="black",
        zeroline=False, tickfont=dict(family=FONT, size=23, color="black"),
    )
    layout["xaxis" + n] = dict(common, domain=x_domains[i], anchor="y" + n,
                               range=[-0.53, 20.75], tickvals=x_ticks,
                               ticktext=[str(t) for t in x_ticks])
    layout["yaxis" + n] = dict(common, domain=y_domain, anchor="x" + n,
                               range=[-1.0, 20.0], tickvals=y_ticks, ticktext=y_tick_labels)
    layout[leg] = dict(
        x=x_domains[i][1] - 18 / W, y=1 - 634 / H, xanchor="right", yanchor="bottom",
        xref="paper", yref="paper",
        bgcolor="rgba(255,255,255,0.8)", bordercolor="#cccccc", borderwidth=1,
        font=dict(family=FONT, size=27.5, color="black"),
        itemwidth=70, tracegroupgap=6,
    )
    cx = (x_domains[i][0] + x_domains[i][1]) / 2
    layout["annotations"].append(dict(
        text=titles[i], x=cx, y=1 - 14.8 / H, xref="paper", yref="paper",
        xanchor="center", yanchor="middle", showarrow=False,
        font=dict(family=FONT, size=31, color="black"),
    ))
    layout["annotations"].append(dict(
        text="true value of <i>θ</i><sub>2</sub>", x=cx, y=1 - 699 / H,
        xref="paper", yref="paper", xanchor="center", yanchor="middle", showarrow=False,
        font=dict(family=FONT, size=33, color="black"),
    ))

layout["annotations"].append(dict(
    text="estimated value of <i>θ</i><sub>2</sub>", x=23 / W, y=(y_domain[0] + y_domain[1]) / 2,
    xref="paper", yref="paper", xanchor="center", yanchor="middle", showarrow=False,
    textangle=-90, font=dict(family=FONT, size=33, color="black"),
))

fig.update_layout(**layout)
fig.write_html("out.html")
